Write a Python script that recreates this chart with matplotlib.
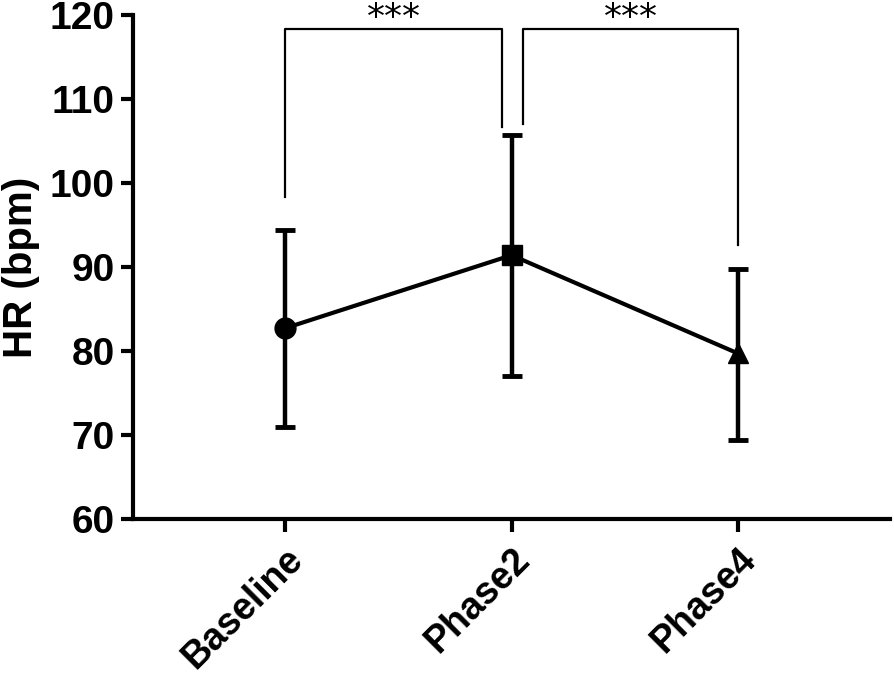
import matplotlib

matplotlib.use("Agg")
import matplotlib.pyplot as plt
from matplotlib.transforms import blended_transform_factory

plt.rcParams["font.family"] = ["Liberation Sans", "DejaVu Sans"]

# data
phases = ["Baseline", "Phase2", "Phase4"]
hr_mean = [82.7, 91.4, 79.7]
hr_upper = [94.4, 105.7, 89.8]
hr_lower = [71.0, 77.0, 69.4]
markers = ["o", "s", "^"]

# significance brackets: (x_left, x_right, y_left_end, y_right_end, label)
brackets = [
    (0.0, 0.96, 98.3, 106.7, "***"),
    (1.05, 2.0, 107.0, 92.6, "***"),
]
bracket_top = 118.3

x = list(range(len(phases)))
err_low = [m - lo for m, lo in zip(hr_mean, hr_lower)]
err_high = [hi - m for m, hi in zip(hr_mean, hr_upper)]

fig = plt.figure(figsize=(8.94, 6.78), dpi=100)
ax = fig.add_axes([0.1488, 0.2345, 0.8467, 0.7435])

ax.errorbar(
    x, hr_mean, yerr=[err_low, err_high],
    fmt="none", ecolor="black", elinewidth=3.2, capsize=7, capthick=3.5, zorder=2,
)
ax.plot(x, hr_mean, color="black", linewidth=3.0, zorder=3)
for xi, yi, mk in zip(x, hr_mean, markers):
    ax.plot(xi, yi, marker=mk, color="black", markersize=15, zorder=4)

star_trans = blended_transform_factory(ax.transData, fig.transFigure)
for xl, xr, yl, yr, label in brackets:
    ax.plot([xl, xl, xr, xr], [yl, bracket_top, bracket_top, yr],
            color="black", linewidth=1.6, clip_on=False, zorder=1)
    ax.text((xl + xr) / 2, 0.999, label, transform=star_trans,
            ha="center", va="top", fontsize=26, family="DejaVu Sans",
            clip_on=False)

ax.set_xlim(-0.67, 2.67)
ax.set_ylim(60, 120)
ax.set_yticks(range(60, 121, 10))
ax.set_xticks(x)
ax.set_xticklabels(phases, rotation=45, ha="right", rotation_mode="anchor",
                   fontsize=27, fontweight="bold")
for lbl in ax.get_yticklabels():
    lbl.set_fontsize(28)
    lbl.set_fontweight("bold")

ax.set_ylabel("HR (bpm)", fontsize=29, fontweight="bold", labelpad=7)

for side in ["top", "right"]:
    ax.spines[side].set_visible(False)
for side in ["left", "bottom"]:
    ax.spines[side].set_linewidth(3.0)
ax.tick_params(axis="both", width=3.0, length=9, pad=4)
ax.tick_params(axis="x", pad=7)

fig.savefig("out.png", dpi=100)
